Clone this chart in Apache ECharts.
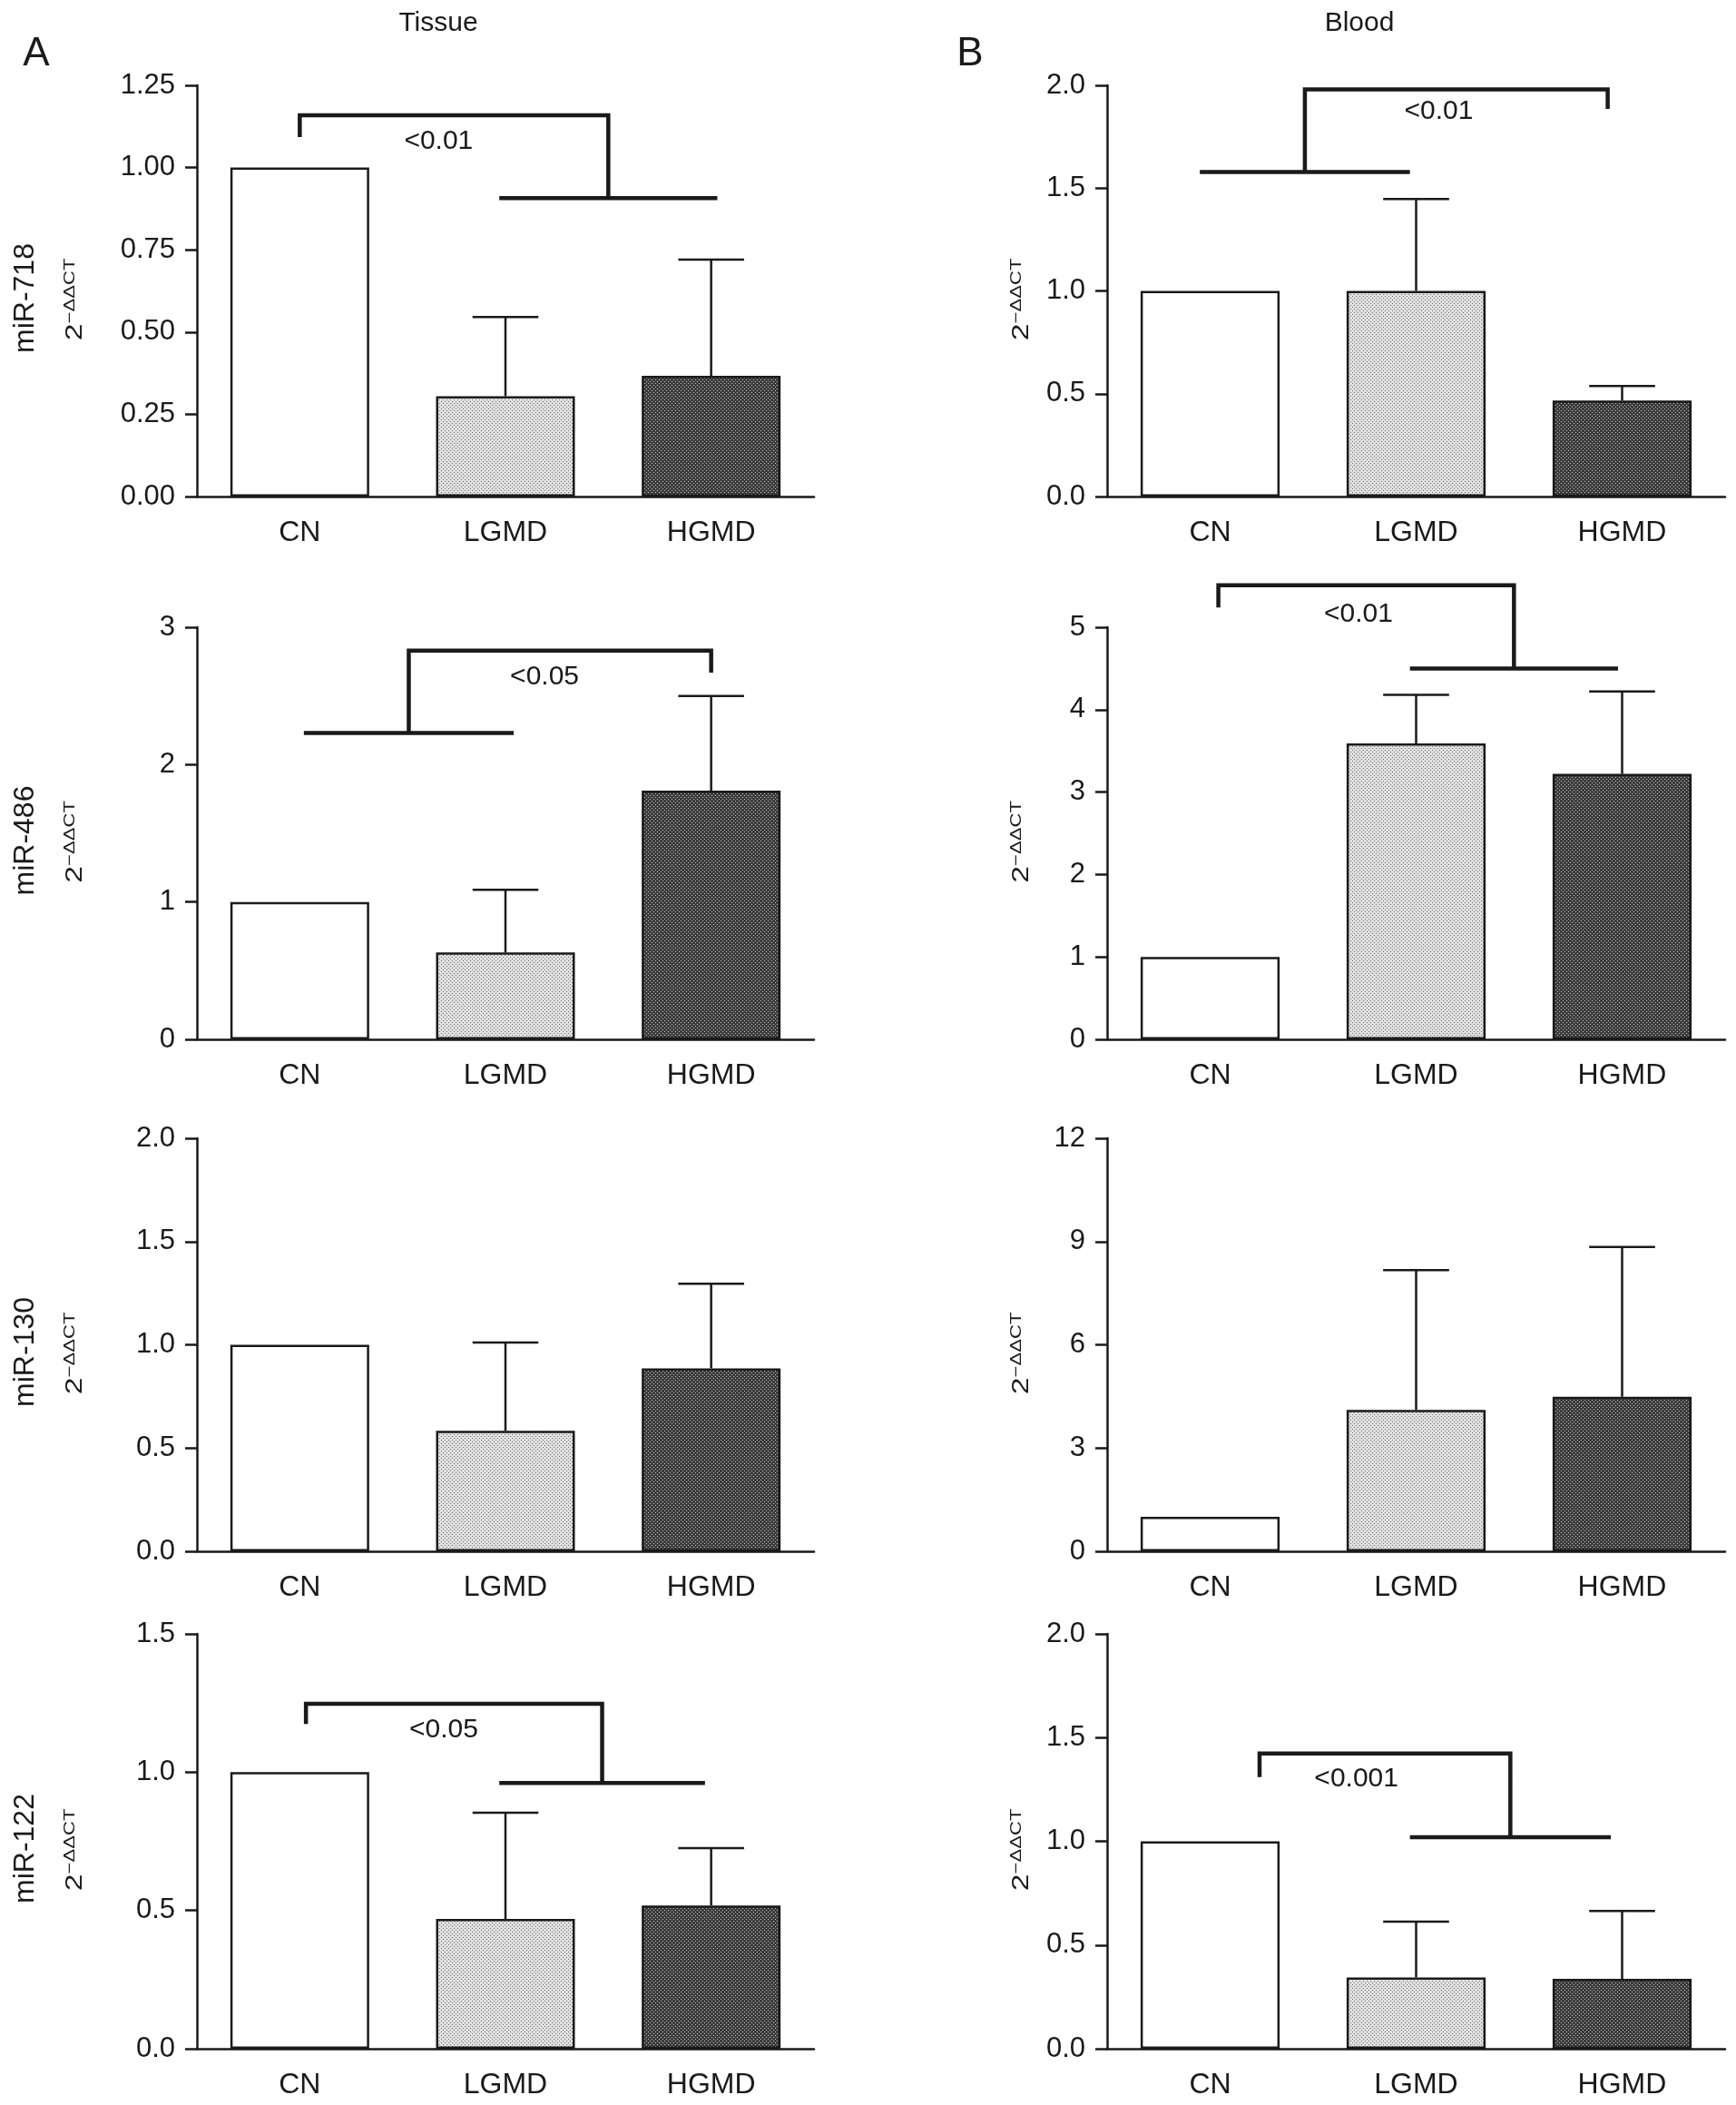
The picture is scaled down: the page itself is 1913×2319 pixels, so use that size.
<!DOCTYPE html>
<html>
<head>
<meta charset="utf-8">
<script src="https://cdn.jsdelivr.net/npm/echarts@6/dist/echarts.min.js"></script>
<style>
html, body { margin: 0; background: #fff; }
#main { width: 1913px; height: 2319px; }
</style>
</head>
<body>
<div id="main"></div>
<script>
var categories = ['CN', 'LGMD', 'HGMD'];
var mirNames = ['miR-718', 'miR-486', 'miR-130', 'miR-122'];

// A - tissue, one row per miRNA: bar heights and top of the error bar
var tissueMean = [[1.0, 0.305, 0.367], [1.0, 0.633, 1.81], [1.0, 0.583, 0.886], [1.0, 0.469, 0.518]];
var tissueUpper = [[null, 0.546, 0.72], [null, 1.089, 2.50], [null, 1.011, 1.296], [null, 0.853, 0.725]];
var tissueMax = [1.25, 3, 2.0, 1.5];
var tissueStep = [0.25, 1, 0.5, 0.5];
var tissueDecimals = [2, 0, 1, 1];

// B - blood
var bloodMean = [[1.0, 1.0, 0.467], [1.0, 3.59, 3.22], [1.0, 4.11, 4.49], [1.0, 0.344, 0.337]];
var bloodUpper = [[null, 1.447, 0.537], [null, 4.18, 4.22], [null, 8.17, 8.84], [null, 0.613, 0.664]];
var bloodMax = [2.0, 5, 12, 2.0];
var bloodStep = [0.5, 1, 3, 0.5];
var bloodDecimals = [1, 0, 0, 1];

// significance brackets: [groupFrom, groupTo, groupY, topY, tickX, tickY] (category units / axis values)
var tissueBracket = [[0.97, 2.03, 0.907, 1.159, 0.0, 1.093], [0.02, 1.04, 2.23, 2.83, 2.0, 2.67], null, [0.97, 1.97, 0.961, 1.247, 0.03, 1.174]];
var tissueP = ['<0.01', '<0.05', null, '<0.05'];
var tissuePAt = [[0.675, 1.08], [1.19, 2.64], null, [0.70, 1.154]];
var bloodBracket = [[-0.05, 0.97, 1.578, 1.98, 1.93, 1.885], [0.97, 1.98, 4.50, 5.51, 0.04, 5.24], null, [0.97, 1.945, 1.02, 1.423, 0.24, 1.31]];
var bloodP = ['<0.01', '<0.01', null, '<0.001'];
var bloodPAt = [[1.11, 1.873], [0.72, 5.16], null, [0.71, 1.30]];

// layout
var INK = '#1a1a1a';
var FONT = '"Liberation Sans", Arial, Helvetica, sans-serif';
var colLeft = [217, 1220];
var colWidth = [680, 681];
var rowTop = [94, 691, 1254, 1800];
var rowHeight = [453, 454, 455, 457];

function makePattern(bg, dot) {
  var c = document.createElement('canvas');
  c.width = 4; c.height = 4;
  var ctx = c.getContext('2d');
  ctx.fillStyle = bg;
  ctx.fillRect(0, 0, 4, 4);
  ctx.fillStyle = dot;
  ctx.fillRect(0, 0, 1, 1);
  ctx.fillRect(2, 2, 1, 1);
  return { image: c, repeat: 'repeat' };
}
var fills = ['#ffffff', makePattern('#e0e0e0', '#6c6c6c'), makePattern('#3c3c3c', '#c4c4c4')];

function renderErrorBar(params, api) {
  var upper = api.value(2);
  if (upper == null || isNaN(upper)) return null;
  var base = api.coord([api.value(0), api.value(1)]);
  var top = api.coord([api.value(0), upper]);
  var half = api.size([1, 0])[0] * 0.16;
  var st = { stroke: INK, lineWidth: 2.5 };
  return {
    type: 'group',
    children: [
      { type: 'line', shape: { x1: base[0], y1: base[1], x2: top[0], y2: top[1] }, style: st },
      { type: 'line', shape: { x1: top[0] - half, y1: top[1], x2: top[0] + half, y2: top[1] }, style: st }
    ]
  };
}

function makeBracket(b, label, at) {
  return function (params, api) {
    var x0 = api.coord([0, 0])[0];
    var band = api.size([1, 0])[0];
    function X(u) { return x0 + u * band; }
    function Y(v) { return api.coord([0, v])[1]; }
    var stem = (b[0] + b[1]) / 2;
    var st = { stroke: INK, lineWidth: 4.5, fill: null, lineJoin: 'miter', lineCap: 'butt' };
    return {
      type: 'group',
      children: [
        { type: 'line', shape: { x1: X(b[0]), y1: Y(b[2]), x2: X(b[1]), y2: Y(b[2]) }, style: st },
        { type: 'polyline', shape: { points: [[X(stem), Y(b[2])], [X(stem), Y(b[3])], [X(b[4]), Y(b[3])], [X(b[4]), Y(b[5])]] }, style: st },
        { type: 'text', x: X(at[0]), y: Y(at[1]), style: { text: label, fill: INK, fontSize: 30, fontFamily: FONT, align: 'center', verticalAlign: 'middle' } }
      ]
    };
  };
}

var panels = [
  { mean: tissueMean, upper: tissueUpper, max: tissueMax, step: tissueStep, dec: tissueDecimals, br: tissueBracket, p: tissueP, pAt: tissuePAt },
  { mean: bloodMean, upper: bloodUpper, max: bloodMax, step: bloodStep, dec: bloodDecimals, br: bloodBracket, p: bloodP, pAt: bloodPAt }
];

var grids = [], xAxes = [], yAxes = [], series = [], graphics = [];

panels.forEach(function (pn, c) {
  for (var r = 0; r < 4; r++) {
    var gi = grids.length;
    grids.push({ left: colLeft[c], top: rowTop[r], width: colWidth[c], height: rowHeight[r], containLabel: false, outerBoundsMode: 'none' });
    xAxes.push({
      gridIndex: gi, type: 'category', data: categories,
      axisLine: { lineStyle: { color: INK, width: 2.5 } },
      axisTick: { alignWithLabel: true, interval: 0, length: 13, lineStyle: { color: INK, width: 2.5 } },
      axisLabel: { interval: 0, fontSize: 32, color: INK, margin: 24, fontFamily: FONT }
    });
    (function (dec) {
      yAxes.push({
        gridIndex: gi, type: 'value', min: 0, max: pn.max[r], interval: pn.step[r],
        splitLine: { show: false },
        axisLine: { show: true, lineStyle: { color: INK, width: 2.5 } },
        axisTick: { show: true, length: 13, lineStyle: { color: INK, width: 2.5 } },
        axisLabel: { fontSize: 31, color: INK, margin: 24, fontFamily: FONT, formatter: function (v) { return v.toFixed(dec); } }
      });
    })(pn.dec[r]);
    series.push({
      type: 'bar', xAxisIndex: gi, yAxisIndex: gi, barWidth: '67.5%',
      itemStyle: { borderColor: INK, borderWidth: 2.5 },
      data: pn.mean[r].map(function (v, i) { return { value: v, itemStyle: { color: fills[i] } }; })
    });
    series.push({
      type: 'custom', xAxisIndex: gi, yAxisIndex: gi, renderItem: renderErrorBar, z: 3,
      data: pn.mean[r].map(function (v, i) { return [i, v, pn.upper[r][i] == null ? '-' : pn.upper[r][i]]; })
    });
    if (pn.br[r]) {
      series.push({
        type: 'custom', xAxisIndex: gi, yAxisIndex: gi, z: 4, clip: false,
        renderItem: makeBracket(pn.br[r], pn.p[r], pn.pAt[r]),
        data: [[0, 0]]
      });
    }
    // y-axis name: 2^-ΔΔCT
    var cy = rowTop[r] + rowHeight[r] / 2 + 8;
    var cx = c === 0 ? 82 : 1125;
    graphics.push({
      type: 'group', x: cx, y: cy, rotation: Math.PI / 2, scaleX: 1.3,
      children: [
        { type: 'text', x: -36, y: 1, style: { text: '2', fill: INK, fontSize: 26, fontFamily: FONT, align: 'left', verticalAlign: 'middle' } },
        { type: 'text', x: -36 + 14.5, y: -4.5, style: { text: '\u2212\u0394\u0394CT', fill: INK, fontSize: 17, fontFamily: FONT, align: 'left', verticalAlign: 'middle' } }
      ]
    });
    if (c === 0) {
      graphics.push({
        type: 'text', x: 28, y: cy, rotation: Math.PI / 2,
        style: { text: mirNames[r], fill: INK, fontSize: 32, fontFamily: FONT, align: 'center', verticalAlign: 'middle' }
      });
    }
  }
});

var titles = [['A', 40, 60, 44], ['Tissue', 483, 26, 30], ['B', 1069, 60, 44], ['Blood', 1498, 26, 30]];
titles.forEach(function (t) {
  graphics.push({ type: 'text', x: t[1], y: t[2], style: { text: t[0], fill: INK, fontSize: t[3], fontFamily: FONT, align: 'center', verticalAlign: 'middle' } });
});

var chart = echarts.init(document.getElementById('main'), null, { renderer: 'canvas' });
chart.setOption({
  animation: false,
  backgroundColor: '#fff',
  grid: grids,
  xAxis: xAxes,
  yAxis: yAxes,
  series: series,
  graphic: { elements: graphics }
});
</script>
</body>
</html>
